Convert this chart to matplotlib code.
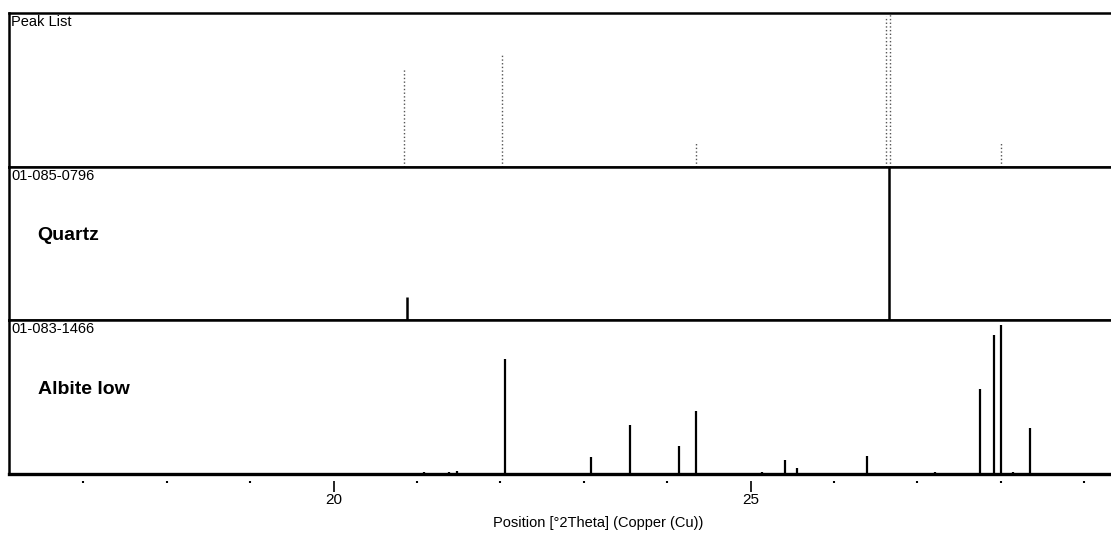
# xrd_peaks.py — Peak List / Quartz / Albite low 스틱 패턴
import numpy as np
import matplotlib.pyplot as plt

plt.rcParams['font.family'] = ['Liberation Sans', 'DejaVu Sans']

# ===== 데이터 =====
peak_pos = [20.85, 22.02, 24.35, 26.62, 26.67, 28.00]
peak_int = [0.64, 0.73, 0.16, 0.98, 1.00, 0.16]

quartz_pos = [20.88, 26.66]
quartz_int = [0.15, 1.00]

albite_pos = [21.09, 21.38, 21.48, 22.06, 23.09, 23.55, 24.14, 24.34, 25.14,
              25.41, 25.56, 26.40, 27.21, 27.75, 27.92, 28.00, 28.14, 28.35]
albite_int = [0.01, 0.01, 0.02, 0.75, 0.11, 0.32, 0.18, 0.41, 0.01,
              0.09, 0.04, 0.12, 0.01, 0.55, 0.90, 0.97, 0.01, 0.30]

panel_codes = ["Peak List", "01-085-0796", "01-083-1466"]
panel_names = [None, "Quartz", "Albite low"]

major_ticks = [20, 25]
minor_ticks = [17, 18, 19, 21, 22, 23, 24, 26, 27, 28, 29]
x_range = (16.11, 29.32)

# ===== 그림 =====
fig = plt.figure(figsize=(11.11, 5.36), dpi=100)
W, H = 1111, 536
left = 9 / W
edges = [13, 167, 320, 474]   # 패널 경계 (px, 위에서부터)

axes = []
for k in range(3):
    top, bot = edges[k], edges[k + 1]
    ax = fig.add_axes([left, 1 - bot / H, 1 - left, (bot - top) / H])
    ax.set_xlim(*x_range)
    ax.set_ylim(0, 1.0)
    ax.set_yticks([])
    ax.spines['right'].set_visible(False)
    for s in ['top', 'left', 'bottom']:
        ax.spines[s].set_color('black')
        ax.spines[s].set_linewidth(1.8)
    ax.text(0.002, 0.99, panel_codes[k], transform=ax.transAxes,
            ha='left', va='top', fontsize=10.5, color='black')
    if panel_names[k]:
        ax.text(0.026, 0.55, panel_names[k], transform=ax.transAxes,
                ha='left', va='center', fontsize=14, fontweight='bold')
    axes.append(ax)

ax_pk, ax_qz, ax_ab = axes

ax_pk.vlines(peak_pos, 0, peak_int, colors='#555555', linestyles=':', lw=1.0)
ax_qz.vlines(quartz_pos, 0, quartz_int, colors='black', lw=1.8)
ax_ab.vlines(albite_pos, 0, albite_int, colors='black', lw=1.6)

for ax in (ax_pk, ax_qz):
    ax.set_xticks([])

# 축 눈금: 프레임에서 조금 떨어진 위치
ax_ab.spines['bottom'].set_visible(False)
ax_ab.axhline(0, color='black', lw=2.4, clip_on=False)
ax_ab.spines['bottom'].set_position(('outward', 5))
ax_ab.set_xticks(major_ticks)
ax_ab.set_xticklabels([str(t) for t in major_ticks], fontsize=11)
ax_ab.set_xticks(minor_ticks, minor=True)
ax_ab.tick_params(axis='x', which='major', length=8, width=1.2, pad=1)
ax_ab.tick_params(axis='x', which='minor', length=1.5, width=1.5)

fig.text(598 / W, 1 - 523 / H, "Position [°2Theta] (Copper (Cu))",
         ha='center', va='center', fontsize=10.5)

fig.savefig("out.png", dpi=100)
plt.close(fig)
